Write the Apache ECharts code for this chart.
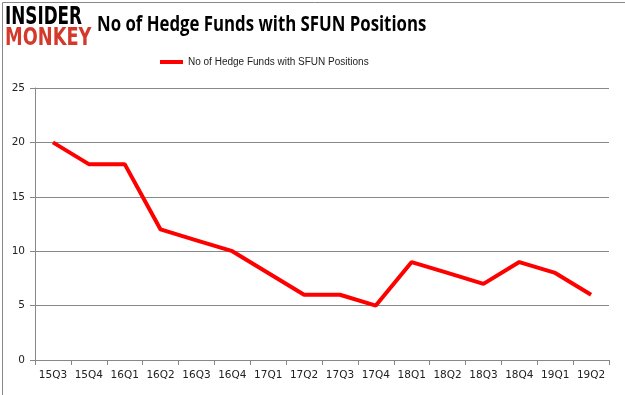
<!DOCTYPE html>
<html><head><meta charset="utf-8">
<script src="https://cdn.jsdelivr.net/npm/echarts@6/dist/echarts.min.js"></script>
<style>html,body{margin:0;padding:0;background:#fff}#c{width:625px;height:395px}</style>
</head><body><div id="c"></div>
<script>
const categories = ['15Q3','15Q4','16Q1','16Q2','16Q3','16Q4','17Q1','17Q2','17Q3','17Q4','18Q1','18Q2','18Q3','18Q4','19Q1','19Q2'];
const values = [20,18,18,12,11,10,8,6,6,5,9,8,7,9,8,6];
const yTicks = [0,5,10,15,20,25];
const seriesName = 'No of Hedge Funds with SFUN Positions';
const titleText = 'No of Hedge Funds with SFUN Positions';

const chart = echarts.init(document.getElementById('c'), null, {renderer:'canvas'});
chart.setOption({
  animation:false,
  backgroundColor:'#fff',
  legend:{data:[seriesName],top:57,left:160,padding:0,itemWidth:23,itemHeight:4,itemGap:3,icon:'rect',
    textStyle:{fontFamily:'"Liberation Sans"',fontSize:10,color:'#222'}},
  grid:{left:35,right:16,top:88,bottom:35},
  xAxis:{type:'category',data:categories,boundaryGap:true,
    axisLine:{lineStyle:{color:'#888'}},axisTick:{show:true,alignWithLabel:false,lineStyle:{color:'#888'}},
    axisLabel:{fontFamily:'DejaVu Sans',fontSize:10.5,color:'#222',margin:10,interval:0},splitLine:{show:false}},
  yAxis:{type:'value',min:yTicks[0],max:yTicks[yTicks.length-1],interval:5,
    axisLine:{show:true,lineStyle:{color:'#888'}},axisTick:{show:true,length:5,lineStyle:{color:'#888'}},
    axisLabel:{fontFamily:'DejaVu Sans',fontSize:10.5,color:'#222',margin:10},
    splitLine:{lineStyle:{color:'#888'}}},
  series:[{name:seriesName,type:'line',data:values,symbol:'none',lineStyle:{color:'#ff0000',width:4},itemStyle:{color:'#ff0000'}}],
  graphic:[
    {type:'rect',left:0,top:0,shape:{width:624,height:393},style:{fill:'none',stroke:'#888',lineWidth:1}},
    {type:'text',x:97,y:14,scaleX:0.763,style:{text:titleText,font:'bold 22px "Open Sans"',fill:'#000'}},
    {type:'text',x:5,y:6,scaleX:0.70,style:{text:'INSIDER',font:'900 24px "DejaVu Sans"',fill:'#000'}},
    {type:'text',x:5,y:27,scaleX:0.74,style:{text:'MONKEY',font:'900 24px "DejaVu Sans"',fill:'#d33a2c'}}
  ]
});
</script></body></html>
